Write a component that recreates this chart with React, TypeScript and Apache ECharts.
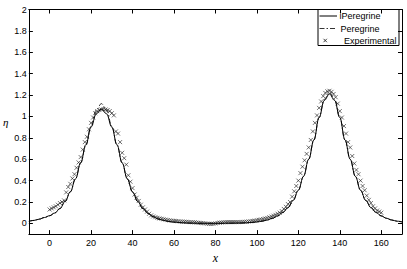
import React, { useEffect, useRef } from "react";
import * as echarts from "echarts";

const xGrid = [
  -10, -7.5, -5, -2.5, 0, 2.5, 5, 7.5, 10, 12.5, 15, 17.5, 20, 22.5, 25, 27.5, 30, 32.5, 35, 37.5,
  40, 42.5, 45, 47.5, 50, 52.5, 55, 57.5, 60, 62.5, 65, 67.5, 70, 72.5, 75, 77.5, 80, 82.5, 85, 87.5,
  90, 92.5, 95, 97.5, 100, 102.5, 105, 107.5, 110, 112.5, 115, 117.5, 120, 122.5, 125, 127.5, 130,
  132.5, 135, 137.5, 140, 142.5, 145, 147.5, 150, 152.5, 155, 157.5, 160, 162.5, 165, 167.5, 170,
];

const iPeregrine = [
  0.02, 0.028, 0.04, 0.055, 0.072, 0.097, 0.139, 0.206, 0.295, 0.416, 0.566, 0.736, 0.901, 1.024, 1.07,
  1.024, 0.901, 0.736, 0.566, 0.416, 0.295, 0.206, 0.139, 0.093, 0.062, 0.041, 0.028, 0.018, 0.012,
  0.008, 0.005, 0.003, 0.002, 0.001, 0.001, 0.001, 0.001, 0.001, 0.002, 0.002, 0.003, 0.004, 0.006,
  0.009, 0.014, 0.021, 0.032, 0.048, 0.07, 0.102, 0.148, 0.215, 0.31, 0.44, 0.6, 0.78, 0.99, 1.15,
  1.21, 1.15, 0.99, 0.78, 0.6, 0.44, 0.31, 0.215, 0.148, 0.102, 0.07, 0.048, 0.032, 0.021, 0.014,
];

const peregrine = [
  0.02, 0.028, 0.04, 0.055, 0.072, 0.097, 0.139, 0.206, 0.295, 0.416, 0.566, 0.73, 0.91, 1.06, 1.12,
  1.06, 0.91, 0.73, 0.566, 0.416, 0.295, 0.206, 0.139, 0.093, 0.062, 0.041, 0.028, 0.018, 0.012,
  0.008, 0.005, 0.003, 0.002, 0.001, 0.001, 0.001, 0.001, 0.001, 0.002, 0.002, 0.003, 0.004, 0.006,
  0.009, 0.014, 0.021, 0.032, 0.048, 0.07, 0.102, 0.148, 0.215, 0.31, 0.44, 0.6, 0.78, 0.99, 1.16,
  1.225, 1.16, 0.99, 0.78, 0.6, 0.44, 0.31, 0.215, 0.148, 0.102, 0.07, 0.048, 0.032, 0.021, 0.014,
];

const experimental: [number, number][] = [
  [0, 0.13], [1, 0.14], [2, 0.15], [3, 0.16], [4, 0.175], [5, 0.19], [6, 0.2], [7, 0.215], [8, 0.29],
  [9, 0.34], [10, 0.37], [11, 0.42], [12, 0.46], [13, 0.52], [14, 0.57], [15, 0.62], [16, 0.69],
  [17, 0.76], [18, 0.81], [19, 0.88], [20, 0.94], [21, 0.99], [22, 1.03], [23, 1.05], [24, 1.06],
  [25, 1.065], [26, 1.07], [27, 1.065], [28, 1.06], [29, 1.05], [30, 1.03], [31, 1.01], [32, 0.86],
  [33, 0.84], [34, 0.76], [35, 0.66], [36, 0.61], [37, 0.55], [38, 0.45], [39, 0.39], [40, 0.33],
  [41, 0.27], [42, 0.24], [43, 0.21], [44, 0.175], [45, 0.15], [46, 0.13], [47, 0.11], [48, 0.09],
  [49, 0.075], [50, 0.065], [51, 0.058], [52, 0.052], [53, 0.047], [54, 0.043], [55, 0.039],
  [56, 0.035], [57, 0.031], [58, 0.028], [59, 0.026], [60, 0.024], [61, 0.022], [62, 0.02],
  [63, 0.018], [64, 0.017], [65, 0.016], [66, 0.015], [67, 0.013], [68, 0.012], [69, 0.011],
  [70, 0.01], [71, 0.008], [72, 0.006], [73, 0.004], [74, 0.002], [75, 0], [76, -0.002],
  [77, -0.004], [78, -0.005], [79, -0.004], [80, 0], [81, 0.004], [82, 0.007], [83, 0.009],
  [84, 0.01], [85, 0.011], [86, 0.012], [87, 0.012], [88, 0.012], [89, 0.012], [90, 0.012],
  [91, 0.012], [92, 0.013], [93, 0.014], [94, 0.015], [95, 0.016], [96, 0.018], [97, 0.02],
  [98, 0.023], [99, 0.026], [100, 0.03], [101, 0.033], [102, 0.037], [103, 0.041], [104, 0.046],
  [105, 0.051], [106, 0.057], [107, 0.064], [108, 0.072], [109, 0.08], [110, 0.09], [111, 0.1],
  [112, 0.115], [113, 0.135], [114, 0.155], [115, 0.18], [116, 0.2], [117, 0.25], [118, 0.3],
  [119, 0.35], [120, 0.4], [121, 0.47], [122, 0.53], [123, 0.59], [124, 0.65], [125, 0.71],
  [126, 0.78], [127, 0.86], [128, 0.94], [129, 1.01], [130, 1.08], [131, 1.14], [132, 1.19],
  [133, 1.22], [134, 1.235], [135, 1.24], [136, 1.23], [137, 1.21], [138, 1.18], [139, 1.12],
  [140, 1.05], [141, 0.99], [142, 0.91], [143, 0.84], [144, 0.76], [145, 0.71], [146, 0.63],
  [147, 0.56], [148, 0.5], [149, 0.46], [150, 0.4], [151, 0.35], [152, 0.31], [153, 0.26],
  [154, 0.22], [155, 0.19], [156, 0.16], [157, 0.14], [158, 0.12], [159, 0.11], [160, 0.1],
];

const xTicks = [0, 20, 40, 60, 80, 100, 120, 140, 160];
const yTicks = [0, 0.2, 0.4, 0.6, 0.8, 1, 1.2, 1.4, 1.6, 1.8, 2];
const legendNames = ["iPeregrine", "Peregrine", "Experimental"];
const X_MIN = -10;
const X_MAX = 170;
const Y_MIN = -0.1;
const Y_MAX = 2;

const SANS = "'Liberation Sans', Arial, Helvetica, sans-serif";
const SERIF = "'Liberation Serif', 'Times New Roman', serif";
const CROSS = "path://M0,0L10,10M10,0L0,10";
const DASH_DOT = [5, 2, 1.5, 2];

export default function App() {
  const ref = useRef<HTMLDivElement>(null);

  useEffect(() => {
    if (!ref.current) return;
    const chart = echarts.init(ref.current, undefined, { renderer: "svg" });

    const axisLine = { show: true, onZero: false, lineStyle: { color: "#000", width: 1 } };
    const tickX = { show: true, inside: true, length: 4, customValues: xTicks, lineStyle: { color: "#000" } };
    const tickY = { show: true, inside: true, length: 4, customValues: yTicks, lineStyle: { color: "#000" } };

    // legend box (MATLAB style), drawn with graphic elements
    const LX = 318;
    const LY = 9.5;
    const LW = 81;
    const LH = 36;
    const rowY = [16, 28.5, 40.5];
    const textX = [339.5, 340.5, 344];
    const legendText = { fontFamily: SANS, fontSize: 9, fill: "#000", verticalAlign: "middle", align: "left" };

    chart.setOption({
      animation: false,
      backgroundColor: "#fff",
      grid: { left: 22, right: 5, top: 9.5, bottom: 21.5, containLabel: false },
      legend: { show: false, data: legendNames },
      graphic: [
        {
          type: "group",
          z: 100,
          children: [
            {
              type: "rect",
              shape: { x: LX, y: LY, width: LW, height: LH },
              style: { fill: "#fff", stroke: "#000", lineWidth: 1 },
            },
            {
              type: "line",
              shape: { x1: 319.5, y1: rowY[0], x2: 337, y2: rowY[0] },
              style: { stroke: "#000", lineWidth: 1 },
            },
            {
              type: "line",
              shape: { x1: 319.5, y1: rowY[1], x2: 337, y2: rowY[1] },
              style: { stroke: "#000", lineWidth: 0.8, lineDash: DASH_DOT },
            },
            {
              type: "polyline",
              shape: { points: [[323.5, rowY[2] - 1.7], [326.9, rowY[2] + 1.7]] },
              style: { stroke: "#111", lineWidth: 0.8, fill: null },
            },
            {
              type: "polyline",
              shape: { points: [[326.9, rowY[2] - 1.7], [323.5, rowY[2] + 1.7]] },
              style: { stroke: "#111", lineWidth: 0.8, fill: null },
            },
            ...legendNames.map((n, i) => ({
              type: "text",
              x: textX[i],
              y: rowY[i],
              style: { ...legendText, text: n },
            })),
          ],
        },
      ],
      xAxis: [
        {
          type: "value",
          min: X_MIN,
          max: X_MAX,
          position: "bottom",
          axisLine,
          axisTick: tickX,
          splitLine: { show: false },
          axisLabel: {
            customValues: xTicks,
            fontFamily: SANS,
            fontSize: 9,
            color: "#000",
            margin: 4,
          },
          name: "x",
          nameLocation: "middle",
          nameGap: 14,
          nameTextStyle: { fontFamily: SERIF, fontStyle: "italic", fontSize: 12, color: "#000" },
        },
        {
          type: "value",
          min: X_MIN,
          max: X_MAX,
          position: "top",
          axisLine,
          axisTick: tickX,
          splitLine: { show: false },
          axisLabel: { show: false },
        },
      ],
      yAxis: [
        {
          type: "value",
          min: Y_MIN,
          max: Y_MAX,
          position: "left",
          axisLine,
          axisTick: tickY,
          splitLine: { show: false },
          axisLabel: {
            customValues: yTicks,
            fontFamily: SANS,
            fontSize: 9,
            color: "#000",
            margin: 2,
          },
          name: "η",
          nameLocation: "middle",
          nameRotate: 0,
          nameGap: 17,
          nameTextStyle: { fontFamily: SERIF, fontStyle: "italic", fontSize: 11, color: "#000", padding: [0, 0, 10, 0] },
        },
        {
          type: "value",
          min: Y_MIN,
          max: Y_MAX,
          position: "right",
          axisLine,
          axisTick: tickY,
          splitLine: { show: false },
          axisLabel: { show: false },
        },
      ],
      series: [
        {
          name: "iPeregrine",
          type: "line",
          data: xGrid.map((x, i) => [x, iPeregrine[i]]),
          showSymbol: false,
          symbol: "none",
          smooth: 0.4,
          smoothMonotone: "x",
          lineStyle: { color: "#000", width: 1, type: "solid" },
          itemStyle: { color: "#000" },
          z: 2,
        },
        {
          name: "Peregrine",
          type: "line",
          data: xGrid.map((x, i) => [x, peregrine[i]]),
          showSymbol: false,
          symbol: "none",
          smooth: 0.4,
          smoothMonotone: "x",
          lineStyle: { color: "#000", width: 0.8, type: DASH_DOT },
          itemStyle: { color: "#000" },
          z: 2,
        },
        {
          name: "Experimental",
          type: "scatter",
          data: experimental,
          symbol: CROSS,
          symbolSize: 4,
          itemStyle: { color: "rgba(0,0,0,0)", borderColor: "#111", borderWidth: 0.75 },
          z: 3,
        },
      ],
    });

    return () => chart.dispose();
  }, []);

  return (
    <div
      ref={ref}
      style={{ position: "fixed", left: 0, top: 0, width: 407, height: 269, background: "#fff" }}
    />
  );
}
